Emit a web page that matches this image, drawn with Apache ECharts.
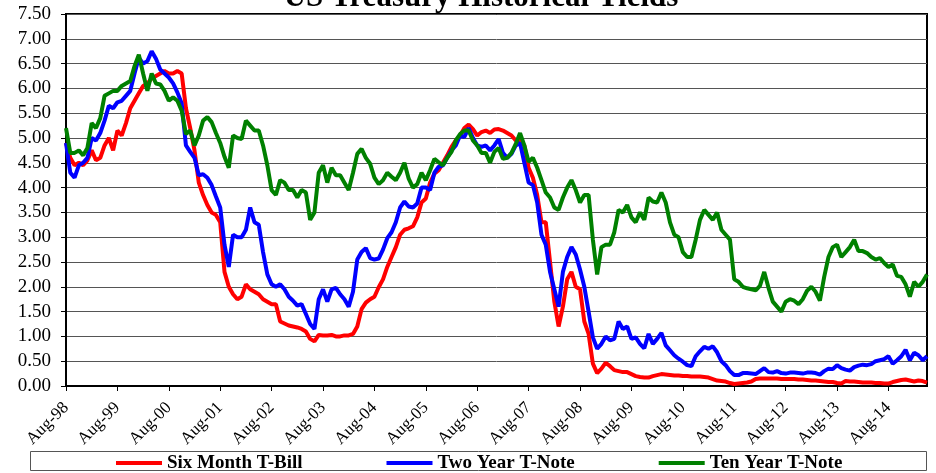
<!DOCTYPE html>
<html>
<head>
<meta charset="utf-8">
<title>US Treasury Historical Yields</title>
<script src="https://cdn.jsdelivr.net/npm/echarts@6/dist/echarts.min.js"></script>
<style>
  html, body { margin: 0; padding: 0; background: #fff; }
  #chart { width: 936px; height: 473px; }
</style>
</head>
<body>
<div id="chart"></div>
<script>
// monthly readings, Aug-98 .. May-15
var monthNames = ['Jan', 'Feb', 'Mar', 'Apr', 'May', 'Jun', 'Jul', 'Aug', 'Sep', 'Oct', 'Nov', 'Dec'];
var firstYear = 1998, firstMonth = 7; // Aug-98

var sixMonth = [
  4.9, 4.6, 4.45, 4.5, 4.45, 4.55, 4.75, 4.55, 4.6, 4.85, 5.0, 4.75,
  5.15, 5.05, 5.3, 5.6, 5.75, 5.9, 6.05, 6.1, 6.2, 6.25, 6.3, 6.35,
  6.3, 6.3, 6.35, 6.3, 5.6, 5.2, 4.75, 4.1, 3.85, 3.65, 3.5, 3.45,
  3.3, 2.3, 2.0, 1.85, 1.75, 1.8, 2.05, 1.95, 1.9, 1.85, 1.75, 1.7,
  1.65, 1.65, 1.3, 1.26, 1.22, 1.2, 1.18, 1.15, 1.1, 0.95, 0.9, 1.03,
  1.02, 1.02, 1.03, 1.0, 1.0, 1.02, 1.02, 1.05, 1.2, 1.55, 1.68, 1.75,
  1.8, 1.99, 2.15, 2.4, 2.6, 2.8, 3.05, 3.15, 3.18, 3.22, 3.4, 3.7,
  3.78, 4.1, 4.28, 4.35, 4.5, 4.65, 4.82, 4.95, 5.05, 5.2, 5.27, 5.18,
  5.05, 5.12, 5.15, 5.1, 5.17, 5.18, 5.15, 5.1, 5.05, 4.95, 4.95, 4.85,
  4.4, 4.2, 3.85, 3.3, 3.3, 2.5, 1.7, 1.2, 1.6, 2.15, 2.3, 2.0,
  1.95, 1.3, 1.05, 0.45, 0.26, 0.35, 0.47, 0.4, 0.32, 0.3, 0.28, 0.28,
  0.24, 0.2, 0.18, 0.17, 0.17, 0.2, 0.22, 0.24, 0.23, 0.22, 0.21, 0.21,
  0.2, 0.2, 0.19, 0.19, 0.19, 0.18, 0.17, 0.14, 0.11, 0.1, 0.09, 0.06,
  0.04, 0.05, 0.06, 0.07, 0.09, 0.14, 0.15, 0.15, 0.15, 0.15, 0.15, 0.14,
  0.14, 0.14, 0.14, 0.13, 0.13, 0.12, 0.11, 0.11, 0.1, 0.09, 0.08, 0.08,
  0.06, 0.05, 0.1, 0.09, 0.09, 0.08, 0.07, 0.07, 0.07, 0.06, 0.06, 0.05,
  0.05, 0.08, 0.1, 0.12, 0.13, 0.11, 0.09, 0.11, 0.1, 0.07
];

var twoYear = [
  4.9, 4.3, 4.2, 4.45, 4.5, 4.6, 5.0, 4.95, 5.1, 5.35, 5.65, 5.6,
  5.72, 5.75, 5.85, 5.95, 6.3, 6.62, 6.5, 6.55, 6.75, 6.6, 6.38, 6.3,
  6.22, 6.1, 5.92, 5.7, 4.85, 4.72, 4.6, 4.25, 4.27, 4.2, 4.05, 3.82,
  3.6, 2.85, 2.4, 3.05, 3.0, 3.0, 3.15, 3.6, 3.3, 3.25, 2.7, 2.25,
  2.05, 2.0, 2.05, 1.95, 1.8, 1.72, 1.62, 1.65, 1.45, 1.25, 1.15, 1.75,
  1.95, 1.7, 1.95, 1.98, 1.85, 1.75, 1.6, 1.9, 2.55, 2.7, 2.78, 2.58,
  2.55, 2.57, 2.75, 2.98, 3.1, 3.3, 3.6, 3.72, 3.62, 3.6, 3.68, 4.0,
  4.0, 3.95, 4.3, 4.42, 4.45, 4.6, 4.75, 4.85, 5.05, 5.02, 5.2, 5.0,
  4.85, 4.82, 4.85, 4.75, 4.85, 4.98, 4.7, 4.6, 4.68, 4.85, 4.9, 4.5,
  4.1, 4.05, 3.7, 3.05, 2.85, 2.3, 1.95, 1.6, 2.3, 2.6, 2.8, 2.65,
  2.35, 2.0, 1.5, 0.98, 0.75, 0.85, 1.0, 0.92, 0.95, 1.3, 1.15, 1.2,
  0.95, 0.98, 0.85, 0.76, 1.05, 0.85, 0.95, 1.07, 0.82, 0.72, 0.62, 0.55,
  0.49, 0.42, 0.4, 0.6, 0.7, 0.79, 0.75, 0.8, 0.68, 0.5, 0.42, 0.3,
  0.22, 0.22, 0.26, 0.26, 0.25, 0.24, 0.3, 0.36, 0.28, 0.27, 0.3, 0.26,
  0.25, 0.27, 0.27, 0.26, 0.25, 0.27, 0.27, 0.26, 0.23, 0.3, 0.35, 0.34,
  0.42, 0.36, 0.33, 0.31, 0.38, 0.41, 0.43, 0.42, 0.44, 0.5, 0.52, 0.54,
  0.6, 0.45, 0.52, 0.6, 0.73, 0.52, 0.67, 0.62, 0.52, 0.6
];

var tenYear = [
  5.2, 4.7, 4.7, 4.75, 4.65, 4.8, 5.3, 5.2, 5.4, 5.85, 5.9, 5.95,
  5.95, 6.05, 6.1, 6.15, 6.45, 6.68, 6.3, 5.95, 6.3, 6.1, 6.08, 5.95,
  5.75, 5.82, 5.75, 5.55, 5.08, 5.15, 4.85, 5.05, 5.35, 5.42, 5.32, 5.1,
  4.9, 4.62, 4.4, 5.05, 5.0, 4.98, 5.35, 5.25, 5.15, 5.15, 4.85, 4.45,
  3.95, 3.85, 4.15, 4.1, 3.95, 3.95, 3.8, 3.95, 3.9, 3.35, 3.5, 4.3,
  4.45, 4.1, 4.4, 4.25, 4.25, 4.1, 3.95, 4.3, 4.68, 4.78, 4.6, 4.48,
  4.2, 4.07, 4.15, 4.3, 4.22, 4.15, 4.3, 4.5, 4.18, 4.0, 4.07, 4.3,
  4.15, 4.35, 4.58, 4.51, 4.45, 4.6, 4.72, 4.95, 5.08, 5.15, 5.15, 4.95,
  4.85, 4.7, 4.7, 4.5, 4.72, 4.8, 4.58, 4.6, 4.7, 4.88, 5.1, 4.85,
  4.52, 4.6, 4.4, 4.15, 3.9, 3.8, 3.6, 3.55, 3.8, 4.0, 4.15, 3.95,
  3.7, 3.85, 3.85, 2.95, 2.25, 2.8, 2.85, 2.85, 3.1, 3.55, 3.5, 3.65,
  3.4, 3.3, 3.5, 3.35, 3.8, 3.72, 3.7, 3.9, 3.7, 3.3, 3.05, 3.0,
  2.7, 2.6, 2.6, 2.95, 3.35, 3.55, 3.45, 3.35, 3.5, 3.15, 3.05, 2.95,
  2.15, 2.1, 2.0, 1.97, 1.95, 1.93, 2.02, 2.3, 1.98, 1.7, 1.6, 1.5,
  1.7, 1.75, 1.72, 1.65, 1.75, 1.92, 2.0, 1.9, 1.72, 2.2, 2.6, 2.8,
  2.85, 2.6, 2.7, 2.8, 2.95, 2.72, 2.72, 2.68, 2.6, 2.55, 2.58, 2.48,
  2.4, 2.45, 2.22, 2.2, 2.05, 1.8, 2.1, 2.0, 2.1, 2.25
];

var seriesNames = ['Six Month T-Bill', 'Two Year T-Note', 'Ten Year T-Note'];
var seriesColors = ['#ff0000', '#0000ff', '#008000'];

// category labels like "Aug-98"
var months = [];
for (var i = 0; i < sixMonth.length; i++) {
  var mm = firstMonth + i;
  var yy = firstYear + Math.floor(mm / 12);
  months.push(monthNames[mm % 12] + '-' + String(yy).slice(2));
}

var serif = '"Liberation Serif", "Times New Roman", serif';
var showAug = function (idx) { return idx % 12 === 0; };

var chart = echarts.init(document.getElementById('chart'));

chart.setOption({
  animation: false,
  backgroundColor: '#fff',
  graphic: [
    {
      type: 'text',
      x: 481,
      y: -18,
      style: {
        text: 'US Treasury Historical Yields',
        font: 'bold 31px ' + serif,
        fill: '#000',
        align: 'center',
        verticalAlign: 'top'
      }
    },
    {
      type: 'rect',
      shape: { x: 30.5, y: 451.5, width: 896, height: 19 },
      style: { fill: 'none', stroke: '#555', lineWidth: 1 },
      z: 0
    }
  ],
  grid: {
    left: 66,
    right: 9,
    top: 14,
    bottom: 87,
    show: true,
    borderColor: '#000',
    borderWidth: 2
  },
  legend: {
    data: seriesNames,
    left: 111,
    top: 448,
    itemWidth: 46,
    itemHeight: 4,
    itemGap: 84,
    icon: 'rect',
    textStyle: {
      fontFamily: serif,
      fontWeight: 'bold',
      fontSize: 19,
      lineHeight: 20,
      color: '#000'
    }
  },
  xAxis: {
    type: 'category',
    data: months,
    boundaryGap: false,
    axisLine: { lineStyle: { color: '#000', width: 2 } },
    axisTick: { interval: showAug, length: 5, lineStyle: { color: '#000' } },
    axisLabel: {
      interval: showAug,
      rotate: 45,
      margin: 19,
      fontFamily: serif,
      fontSize: 17,
      color: '#000'
    },
    splitLine: { show: false }
  },
  yAxis: {
    type: 'value',
    min: 0,
    max: 7.5,
    interval: 0.5,
    axisLine: { show: true, lineStyle: { color: '#000', width: 2 } },
    axisTick: { show: true, length: 5, lineStyle: { color: '#000' } },
    axisLabel: {
      margin: 15,
      fontFamily: serif,
      fontSize: 19,
      color: '#000',
      formatter: function (v) { return v.toFixed(2); }
    },
    splitLine: { lineStyle: { color: '#555', width: 1 } }
  },
  series: [sixMonth, twoYear, tenYear].map(function (vals, k) {
    return {
      name: seriesNames[k],
      type: 'line',
      data: vals,
      symbol: 'none',
      color: seriesColors[k],
      lineStyle: { width: 4, color: seriesColors[k] }
    };
  })
});
</script>
</body>
</html>
